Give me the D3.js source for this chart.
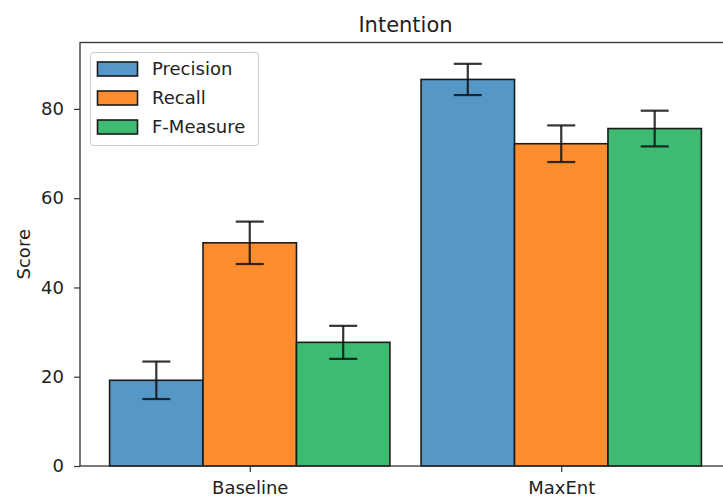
<!DOCTYPE html>
<html>
<head>
<meta charset="utf-8">
<script src="https://cdn.jsdelivr.net/npm/d3@7"></script>
<style>
  html, body { margin: 0; padding: 0; background: #fff; }
  svg { display: block; font-family: "DejaVu Sans", sans-serif; }
</style>
</head>
<body>
<svg id="chart" width="723" height="501"></svg>
<script>
// Models compared on the x axis
const categories = ["Baseline", "MaxEnt"];
// Metric series, one value per model
const seriesNames = ["Precision", "Recall", "F-Measure"];
const precision = [19.2, 86.6];
const recall = [50.0, 72.2];
const fMeasure = [27.7, 75.6];
// Error bar half-widths
const precisionErr = [4.2, 3.5];
const recallErr = [4.75, 4.1];
const fMeasureErr = [3.7, 4.0];
const yTicks = [0, 20, 40, 60, 80];
const colors = ["#5598c7", "#fd8d2e", "#3dbb73"];

const values = [precision, recall, fMeasure];
const errs = [precisionErr, recallErr, fMeasureErr];

const svg = d3.select("#chart");
const plotLeft = 80, plotRight = 731, plotTop = 42.5, plotBottom = 466;

// Numeric group positions 0..n-1, bar width 0.3, 5% padding around the bars
const barW = 0.3;
const xMinData = -1.5 * barW, xMaxData = categories.length - 1 + 1.5 * barW;
const pad = 0.05 * (xMaxData - xMinData);
const x = d3.scaleLinear().domain([xMinData - pad, xMaxData + pad]).range([plotLeft, plotRight]);

const yMaxData = d3.max(values.flatMap((s, i) => s.map((v, j) => v + errs[i][j])));
const y = d3.scaleLinear().domain([0, yMaxData * 1.053]).range([plotBottom, plotTop]);

// Bars
values.forEach((s, i) => {
  const off = (i - 1) * barW;
  svg.append("g").selectAll("rect").data(s).join("rect")
    .attr("x", (d, j) => x(j + off - barW / 2))
    .attr("y", d => y(d))
    .attr("width", x(barW) - x(0))
    .attr("height", d => y(0) - y(d))
    .attr("fill", colors[i])
    .attr("stroke", "#1a1a1a")
    .attr("stroke-width", 1.6);
});

// Error bars
const capHalf = 14;
values.forEach((s, i) => {
  const off = (i - 1) * barW;
  const g = svg.append("g").attr("stroke", "#111").attr("stroke-opacity", 0.85).attr("stroke-width", 2.2);
  s.forEach((v, j) => {
    const cx = x(j + off);
    const lo = y(v - errs[i][j]), hi = y(v + errs[i][j]);
    g.append("line").attr("x1", cx).attr("x2", cx).attr("y1", lo).attr("y2", hi);
    g.append("line").attr("x1", cx - capHalf).attr("x2", cx + capHalf).attr("y1", lo).attr("y2", lo);
    g.append("line").attr("x1", cx - capHalf).attr("x2", cx + capHalf).attr("y1", hi).attr("y2", hi);
  });
});

// Axes
const xAxis = d3.axisBottom(x).tickValues(d3.range(categories.length))
  .tickFormat(i => categories[i]).tickSize(6).tickPadding(9);
const gx = svg.append("g").attr("transform", `translate(0,${plotBottom})`).call(xAxis);
const yAxis = d3.axisLeft(y).tickValues(yTicks).tickSize(6).tickPadding(10);
const gy = svg.append("g").attr("transform", `translate(${plotLeft},0)`).call(yAxis);
[gx, gy].forEach(g => {
  g.select(".domain").remove();
  g.selectAll(".tick line").attr("stroke", "#333").attr("stroke-width", 1.2);
  g.selectAll(".tick text").attr("fill", "#222").style("font-size", "18px").style("font-family", "DejaVu Sans");
});

// Frame
svg.append("rect").attr("x", plotLeft).attr("y", plotTop).attr("width", plotRight - plotLeft).attr("height", plotBottom - plotTop)
  .attr("fill", "none").attr("stroke", "#333").attr("stroke-width", 1.3);

// Title and axis label
svg.append("text").attr("x", (plotLeft + plotRight) / 2).attr("y", 31.5).attr("text-anchor", "middle")
  .style("font-size", "21px").attr("fill", "#222").text("Intention");
svg.append("text").attr("transform", `translate(30,${(plotTop + plotBottom) / 2}) rotate(-90)`)
  .attr("text-anchor", "middle").style("font-size", "18px").attr("fill", "#222").text("Score");

// Legend
const lg = svg.append("g");
lg.append("rect").attr("x", 90.5).attr("y", 52.5).attr("width", 168).attr("height", 93).attr("rx", 3)
  .attr("fill", "#fff").attr("fill-opacity", 0.8).attr("stroke", "#ccc").attr("stroke-width", 1);
seriesNames.forEach((name, i) => {
  const cy = 69 + i * 29;
  lg.append("rect").attr("x", 97.5).attr("y", cy - 7).attr("width", 40).attr("height", 14)
    .attr("fill", colors[i]).attr("stroke", "#1a1a1a").attr("stroke-width", 1.6);
  lg.append("text").attr("x", 152).attr("y", cy).attr("dy", "0.35em")
    .style("font-size", "18px").attr("fill", "#222").text(name);
});
</script>
</body>
</html>
